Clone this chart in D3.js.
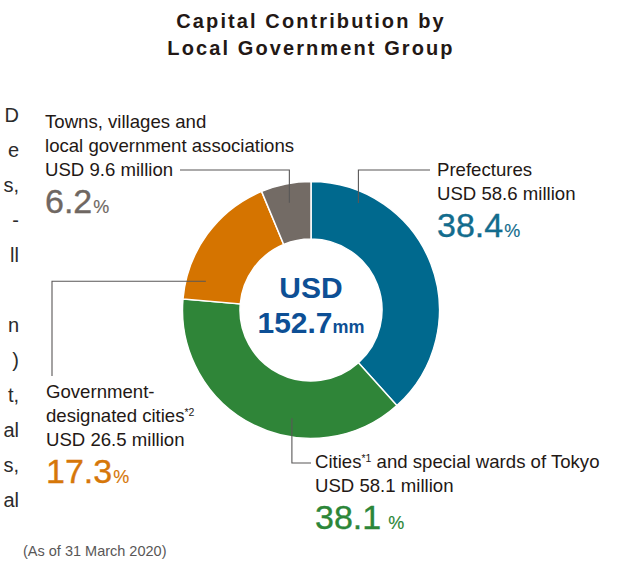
<!DOCTYPE html>
<html>
<head>
<meta charset="utf-8">
<script src="https://cdn.jsdelivr.net/npm/d3@7"></script>
<style>
  html, body { margin: 0; padding: 0; background: #fff; }
  svg { display: block; font-family: "Liberation Sans", Arial, Helvetica, sans-serif; }
</style>
</head>
<body>
<svg id="chart" width="632" height="562"></svg>
<script>
// Capital contribution by local government group (USD million), as of 31 March 2020
const categories = [
  "Prefectures",
  "Cities*1 and special wards of Tokyo",
  "Government-designated cities*2",
  "Towns, villages and local government associations"
];
const labelLines = [
  ["Prefectures"],
  ["Cities*1 and special wards of Tokyo"],
  ["Government-", "designated cities*2"],
  ["Towns, villages and", "local government associations"]
];
const valuesUSDm = [58.6, 58.1, 26.5, 9.6];
const sharePct = ["38.4", "38.1", "17.3", "6.2"];
const totalUSDm = "152.7";
const titleLines = ["Capital Contribution by", "Local Government Group"];
const footnote = "(As of 31 March 2020)";
// tail ends of the neighbouring text column, cut off at the left edge
const sideColumnTails = ["D", "e", "s,", "-", "ll", "", "n", ")", "t,", "al", "s,", "al"];

const sliceColors = ["#00698e", "#2f8538", "#d57400", "#736b65"];
const numberColors = ["#136c8d", "#2c8638", "#d67709", "#6f6762"];
const textColor = "#231815";
const lineColor = "#595757";

const svg = d3.select("#chart");
const cx = 311, cy = 310, outerR = 128.5, innerR = 71;

// title
svg.append("g").selectAll("text").data(titleLines).join("text")
  .attr("x", 311).attr("y", (d, i) => 28 + i * 26.5)
  .attr("text-anchor", "middle")
  .attr("font-size", 20).attr("font-weight", "bold")
  .attr("letter-spacing", 2.1)
  .attr("fill", textColor)
  .text(d => d);

// cut-off side column
svg.append("g").selectAll("text").data(sideColumnTails).join("text")
  .attr("x", 19).attr("y", (d, i) => 122 + i * 35)
  .attr("text-anchor", "end")
  .attr("font-size", 20)
  .attr("fill", "#2b2b2b")
  .text(d => d);

// donut
const pie = d3.pie().sort(null).value(d => d)(valuesUSDm);
const arc = d3.arc().innerRadius(innerR).outerRadius(outerR);
const ring = svg.append("g").attr("transform", `translate(${cx},${cy})`);
ring.selectAll("path").data(pie).join("path")
  .attr("d", arc)
  .attr("fill", (d, i) => sliceColors[i])
  .attr("stroke", "#fff")
  .attr("stroke-width", 1.5);

// centre total
ring.append("text")
  .attr("x", 0).attr("y", -12)
  .attr("text-anchor", "middle")
  .attr("font-size", 30).attr("font-weight", "bold")
  .attr("fill", "#0d4f95")
  .text("USD");
const tot = ring.append("text")
  .attr("x", 0).attr("y", 23)
  .attr("text-anchor", "middle")
  .attr("font-size", 30).attr("font-weight", "bold")
  .attr("fill", "#0d4f95");
tot.append("tspan").text(totalUSDm);
tot.append("tspan").attr("font-size", 18).text("mm");

// label placement and leader routing
const polar = (deg, r) => {
  const a = deg * Math.PI / 180;
  return [cx + r * Math.sin(a), cy - r * Math.cos(a)];
};
const labelLayout = [
  { x: 437, y: 176, pctGap: 1, anchor: [23.9, 117], route: p => [p, [p[0], 170], [430, 170]] },
  { x: 315, y: 468, pctGap: 7, anchor: [190, 110], route: p => [p, [p[0], 463], [311, 463]] },
  { x: 46, y: 398, pctGap: 1, anchor: [285.3, 109], route: p => [p, [52, p[1]], [52, 376]] },
  { x: 45, y: 128, pctGap: 1, anchor: [348.6, 109.5], route: p => [[180, 170], [p[0], 170], p] }
];

const lineGen = d3.line();
const lh = 23.8;

categories.forEach((cat, i) => {
  const L = labelLayout[i];
  const g = svg.append("g").attr("class", "label");

  // leader
  const pts = L.route(polar(L.anchor[0], L.anchor[1]));
  g.append("path")
    .attr("d", lineGen(pts))
    .attr("fill", "none")
    .attr("stroke", lineColor)
    .attr("stroke-width", 1.1);

  // name lines, with footnote markers as superscripts
  labelLines[i].forEach((ln, j) => {
    const t = g.append("text")
      .attr("x", L.x).attr("y", L.y + j * lh)
      .attr("font-size", 18.6).attr("fill", textColor);
    const m = ln.match(/^(.*?)(\*\d)(.*)$/);
    if (m) {
      t.append("tspan").text(m[1]);
      t.append("tspan").attr("font-size", 10.5).attr("dy", -6).text(m[2]);
      if (m[3]) t.append("tspan").attr("dy", 6).text(m[3]);
    } else {
      t.text(ln);
    }
  });
  const nLines = labelLines[i].length;
  g.append("text")
    .attr("x", L.x).attr("y", L.y + nLines * lh)
    .attr("font-size", 18.6).attr("fill", textColor)
    .text(`USD ${valuesUSDm[i]} million`);

  const pct = g.append("text")
    .attr("x", L.x).attr("y", L.y + nLines * lh + 37)
    .attr("font-size", 34).attr("fill", numberColors[i])
    .attr("stroke", numberColors[i]).attr("stroke-width", 0.35);
  pct.append("tspan").text(sharePct[i]);
  pct.append("tspan").attr("dx", L.pctGap).attr("font-size", 18)
    .attr("stroke-width", 0.15).text("%");
});

// as-of note
svg.append("text")
  .attr("x", 23).attr("y", 556)
  .attr("font-size", 14.5).attr("fill", "#595757")
  .text(footnote);
</script>
</body>
</html>
